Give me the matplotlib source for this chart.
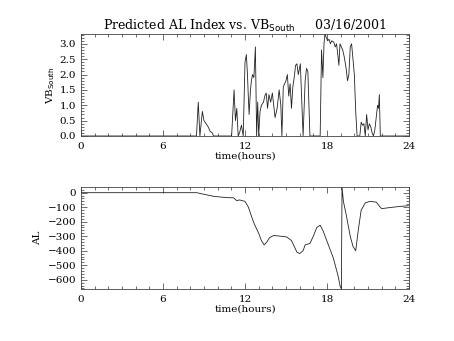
import matplotlib
matplotlib.use("Agg")
import matplotlib.pyplot as plt
from matplotlib.ticker import MultipleLocator

# VB south (mV/m) sampled in hours
t_vb = [0.0, 8.45, 8.58, 8.7, 8.88, 9.0, 9.15, 9.3, 9.45, 9.6, 9.7, 11.02,
        11.2, 11.3, 11.4, 11.5, 11.6, 11.74, 11.87, 12.0, 12.1, 12.18, 12.25,
        12.3, 12.4, 12.47, 12.55, 12.65, 12.76, 12.82, 12.85, 12.93, 13.0,
        13.1, 13.2, 13.35, 13.45, 13.55, 13.65, 13.75, 13.88, 14.0, 14.2,
        14.35, 14.5, 14.62, 14.7, 14.8, 14.9, 15.0, 15.1, 15.2, 15.3, 15.4,
        15.5, 15.6, 15.7, 15.8, 15.9, 16.05, 16.25, 16.4, 16.5, 16.6, 16.75,
        17.5, 17.6, 17.7, 17.78, 17.85, 17.95, 18.05, 18.15, 18.25, 18.35,
        18.5, 18.6, 18.7, 18.8, 18.87, 18.95, 19.05, 19.15, 19.25, 19.4,
        19.5, 19.6, 19.7, 19.8, 19.9, 20.0, 20.1, 20.2, 20.4, 20.5, 20.6,
        20.7, 20.8, 20.9, 21.0, 21.1, 21.2, 21.3, 21.4, 21.5, 21.6, 21.7,
        21.77, 21.83, 21.9, 24.0]
vb = [0.0, 0.0, 1.1, 0.0, 0.8, 0.5, 0.4, 0.3, 0.15, 0.1, 0.0, 0.0,
      1.5, 0.5, 0.9, 0.0, 0.1, 0.35, 0.0, 2.4, 2.65, 2.0, 1.2,
      0.7, 1.5, 1.8, 2.0, 1.9, 2.9, 1.0, 0.0, 1.1, 0.0,
      0.8, 1.0, 1.1, 1.3, 1.4, 0.9, 1.35, 1.1, 1.4, 0.6,
      0.9, 1.5, 1.0, 0.0, 1.6, 1.7, 1.8, 2.0, 1.3, 1.7, 0.9,
      1.6, 1.9, 2.3, 2.35, 2.0, 2.35, 0.0, 1.8, 2.2, 2.1, 0.0,
      0.0, 2.8, 1.9, 3.0, 3.32, 3.2, 3.1, 3.15, 3.0, 3.1,
      3.05, 2.9, 3.0, 2.6, 2.3, 3.0, 2.9, 2.8, 2.6, 2.2,
      1.8, 2.0, 2.9, 3.0, 2.5, 2.0, 0.8, 0.0, 0.0, 0.45, 0.35,
      0.4, 0.0, 0.7, 0.2, 0.4, 0.3, 0.1, 0.0, 0.2, 0.6, 1.0,
      0.9, 1.35, 0.0, 0.0]

# predicted AL index (nT)
t_al = [0.0, 8.46, 8.7, 9.2, 9.7, 10.2, 10.9, 11.15, 11.4, 11.6, 12.0, 12.25,
        12.5, 12.7, 13.0, 13.2, 13.4, 13.6, 13.8, 14.1, 14.6, 15.05, 15.4,
        15.65, 15.8, 16.0, 16.25, 16.4, 16.75, 17.0, 17.25, 17.5, 17.7, 18.1,
        18.46, 18.8, 18.95, 19.05, 19.1, 19.2, 19.4, 19.7, 19.9, 20.1, 20.3,
        20.5, 20.8, 21.15, 21.6, 21.9, 22.0, 22.4, 22.85, 23.3, 23.95]
al = [0, 0, -5, -15, -25, -30, -35, -35, -55, -50, -60, -100,
      -170, -220, -280, -330, -360, -340, -310, -295, -300, -305, -330,
      -380, -410, -420, -400, -360, -350, -300, -240, -225, -260, -360,
      -450, -570, -640, -664, 37, -60, -150, -300, -370, -400, -250,
      -120, -70, -60, -65, -100, -110, -105, -100, -95, -90]

plt.rcParams['font.family'] = ['DejaVu Serif']
plt.rcParams['font.size'] = 7.5

fig = plt.figure(figsize=(4.54, 3.41), dpi=100)
ax1 = fig.add_axes([0.1784, 0.6012, 0.7225, 0.2991])
ax2 = fig.add_axes([0.1784, 0.1525, 0.7225, 0.2982])


def style_axis(ax, ymajor, yminor):
    ax.set_xlim(0, 24)
    ax.xaxis.set_major_locator(MultipleLocator(6))
    ax.xaxis.set_minor_locator(MultipleLocator(1))
    ax.yaxis.set_major_locator(MultipleLocator(ymajor))
    ax.yaxis.set_minor_locator(MultipleLocator(yminor))
    ax.tick_params(which='both', direction='in', top=True, right=True,
                   width=0.6, color='#555555')
    ax.tick_params(which='major', length=4)
    ax.tick_params(which='minor', length=2)
    ax.tick_params(axis='x', pad=4)
    for sp in ax.spines.values():
        sp.set_linewidth(0.6)
        sp.set_color('#444444')
    ax.set_xlabel('time(hours)', labelpad=1)


ax1.plot(t_vb, vb, color='#222222', lw=0.6)
ax1.set_ylim(0, 3.32)
style_axis(ax1, 0.5, 0.1)
ax1.set_yticks([0.0, 0.5, 1.0, 1.5, 2.0, 2.5, 3.0])
ax1.set_yticklabels(['0.0', '0.5', '1.0', '1.5', '2.0', '2.5', '3.0'])
ax1.set_ylabel('VB$_{\\rm South}$', labelpad=2)
ax1.set_title('Predicted AL Index vs. VB$_{\\rm South}$     03/16/2001',
              fontsize=9, pad=3)

ax2.plot(t_al, al, color='#222222', lw=0.6)
ax2.set_ylim(-664, 37)
style_axis(ax2, 100, 20)
ax2.set_ylabel('AL', labelpad=4)

fig.savefig('out.png', dpi=100)
